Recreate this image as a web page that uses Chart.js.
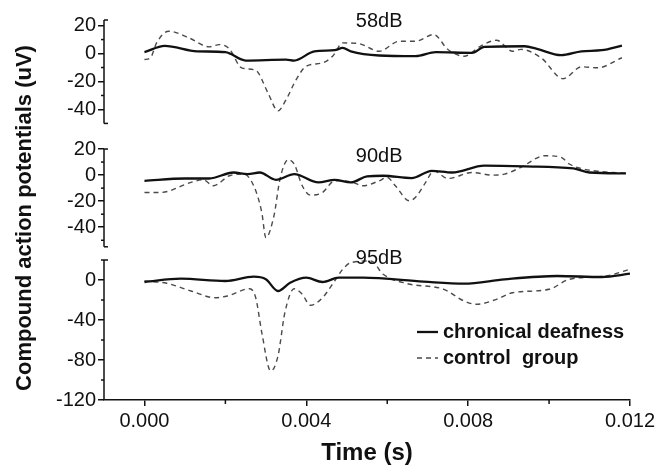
<!DOCTYPE html>
<html>
<head>
<meta charset="utf-8">
<script src="https://cdn.jsdelivr.net/npm/chart.js@4.4.1/dist/chart.umd.min.js"></script>
<style>
  html, body { margin: 0; padding: 0; background: #fff; }
  canvas { display: block; }
</style>
</head>
<body>
<canvas id="cap" width="656" height="468"></canvas>
<script>
// time (s) / amplitude (uV)
const t58Deaf = [0, 0.0005, 0.0013, 0.002, 0.0025, 0.0035, 0.0037, 0.0042, 0.0047, 0.0049, 0.0051, 0.0058, 0.0067, 0.0072, 0.0081, 0.0084, 0.0094, 0.0097, 0.0103, 0.0108, 0.0113, 0.0118];
const v58Deaf = [1, 5.5, 1.6, 1, -5, -4.3, -5, 1.6, 2.4, 4, 1.6, -1.4, -1.9, 1, 0.5, 4.8, 5.2, 3.3, -1.2, 1.6, 2.4, 5.7];
const t58Ctrl = [0, 0.00015, 0.0003, 0.0006, 0.0011, 0.0016, 0.00185, 0.0021, 0.0024, 0.00275, 0.00305, 0.0033, 0.0035, 0.00375, 0.004, 0.0044, 0.00465, 0.0049, 0.0053, 0.0058, 0.0063, 0.0067, 0.00715, 0.0075, 0.0079, 0.0083, 0.0087, 0.0091, 0.0093, 0.0098, 0.01035, 0.0108, 0.0112, 0.0118];
const v58Ctrl = [-4.3, -3, 7.6, 16, 11.2, 4.8, 6.4, 3.3, -10.2, -12, -28, -41, -33, -18.6, -9, -6.7, -1.9, 7.6, 7.1, 1.6, 8.8, 8.8, 13.6, 2.9, -1.9, 5.2, 9.5, 1.6, 3, -3, -18, -9.5, -10.2, -3];

const t90Deaf = [0, 0.001, 0.0016, 0.0022, 0.00255, 0.00285, 0.00325, 0.0037, 0.0043, 0.0047, 0.0051, 0.0055, 0.0059, 0.0066, 0.0071, 0.0076, 0.0084, 0.0094, 0.0106, 0.011, 0.0119];
const v90Deaf = [-4.4, -2.6, -2.6, 2, 0.8, 2, -3.6, 0.8, -5.6, -3.6, -5.6, -1, -0.5, -2.3, 3.3, 2, 7.2, 6.7, 5.1, 2, 1.3];
const t90Ctrl = [0, 0.0004, 0.00115, 0.00145, 0.0017, 0.0021, 0.00245, 0.0027, 0.0029, 0.003, 0.0032, 0.00335, 0.00355, 0.0037, 0.0039, 0.0041, 0.0044, 0.0047, 0.0051, 0.0054, 0.0058, 0.006, 0.0062, 0.00655, 0.0067, 0.00695, 0.00715, 0.0075, 0.0081, 0.0086, 0.0089, 0.0093, 0.0099, 0.0103, 0.0105, 0.0108, 0.0112, 0.0119];
const v90Ctrl = [-13.3, -13.3, -5.6, -3.6, -8.2, -0.5, 0.8, -8.2, -28.7, -48, -31.3, -3, 11.8, 8.5, -8.2, -15.4, -13.3, -4.4, -5.1, -8.2, -4.4, -1.8, -8.2, -19.7, -17, -5.6, 3.3, -2.6, 2, 0, 0.8, 5.9, 14.9, 13.6, 8.5, 5, 3, 1.3];

const t95Deaf = [0, 0.0009, 0.002, 0.0027, 0.003, 0.0033, 0.0036, 0.004, 0.0044, 0.0048, 0.0054, 0.0069, 0.0079, 0.0089, 0.0102, 0.0113, 0.012];
const v95Deaf = [-2, 1.3, -1, 3.3, 0.7, -11, -2.7, 2.3, -2, 2.3, 2.3, -1.7, -3.7, 0.7, 4, 3, 6.3];
const t95Ctrl = [0, 0.00055, 0.00115, 0.00175, 0.00205, 0.0026, 0.00275, 0.0029, 0.00312, 0.0033, 0.00347, 0.0037, 0.0039, 0.0041, 0.0044, 0.0047, 0.0049, 0.0051, 0.0056, 0.0059, 0.0065, 0.0074, 0.0079, 0.0082, 0.0087, 0.0091, 0.01, 0.0105, 0.0114, 0.012];
const v95Ctrl = [-1, -3.3, -11, -17.7, -16, -8.7, -17.7, -52.7, -91, -76, -32.7, -8.7, -14.3, -25.3, -17.7, -1, 10.7, 17.3, 19, 5.7, -3.7, -9.3, -21, -24.3, -19.3, -12.7, -9.3, 0.7, 4, 10.7];

// axes
const xMajor = [0, 0.004, 0.008, 0.012];
const xMinor = [0.002, 0.006, 0.01];
const panelIds = ['yTop', 'yMid', 'yBot'];
const panelLabels = ['58dB', '90dB', '95dB'];
const labelTime = 0.0058;
const labelValues = [23, 14, 22];
const yMajor = [[20, 0, -20, -40], [20, 0, -20, -40], [0, -40, -80, -120]];
const yMinor = [[10, -10, -30], [10, -10, -30, -50], [20, -20, -60, -100]];
const axisSpans = [[-50, 24], [-55, 20], [-120, 20]];
const seriesNames = ['chronical deafness', 'control  group'];

const FONT = 'Arial, "Liberation Sans", sans-serif';
const INK = '#111';

const pts = (ts, vs) => ts.map((t, i) => ({ x: t, y: vs[i] }));
const solid = { borderColor: INK, borderWidth: 2.3, pointRadius: 0, cubicInterpolationMode: 'monotone' };
const dashed = { borderColor: '#4a4a4a', borderWidth: 1.4, borderDash: [5, 4], pointRadius: 0, cubicInterpolationMode: 'monotone' };

function yAxis(idx, min, max, weight) {
  return {
    type: 'linear', position: 'left', stack: 'panels', stackWeight: weight,
    min: min, max: max,
    grid: { display: true, drawOnChartArea: false, drawTicks: true, tickLength: 6, color: INK, lineWidth: 1.5 },
    border: { display: false },
    ticks: { color: INK, font: { family: FONT, size: 20 }, padding: 2, autoSkip: false, callback: v => String(v) },
    afterBuildTicks: s => { s.ticks = yMajor[idx].map(v => ({ value: v })); },
    afterFit: s => { s.width = 104; s.paddingTop = 0; s.paddingBottom = 0; }
  };
}

const panelDecor = {
  id: 'panelDecor',
  afterDraw(chart) {
    const ctx = chart.ctx;
    const xs = chart.scales.x;
    const left = chart.chartArea.left;
    const bottom = chart.chartArea.bottom;
    const seg = (x1, y1, x2, y2) => { ctx.beginPath(); ctx.moveTo(x1, y1); ctx.lineTo(x2, y2); ctx.stroke(); };
    ctx.save();
    ctx.strokeStyle = INK;
    ctx.fillStyle = INK;
    ctx.lineWidth = 1.5;
    panelIds.forEach((id, i) => {
      const s = chart.scales[id];
      const top = s.getPixelForValue(axisSpans[i][1]);
      const bot = s.getPixelForValue(axisSpans[i][0]);
      seg(left, top, left, bot);
      seg(left, top, left + 4, top);
      if (i < 2) seg(left, bot, left + 4, bot);
      yMinor[i].forEach(v => { const py = s.getPixelForValue(v); seg(left - 3, py, left, py); });
      ctx.font = '20px ' + FONT;
      ctx.textAlign = 'center';
      ctx.textBaseline = 'middle';
      ctx.fillText(panelLabels[i], xs.getPixelForValue(labelTime), s.getPixelForValue(labelValues[i]));
    });
    xMinor.forEach(v => { const px = xs.getPixelForValue(v); seg(px, bottom, px, bottom + 4); });

    // legend
    ctx.font = 'bold 20px ' + FONT;
    ctx.textAlign = 'left';
    ctx.textBaseline = 'middle';
    ctx.lineWidth = 2.3;
    seg(417, 332, 438, 332);
    ctx.fillText(seriesNames[0], 443, 332);
    ctx.strokeStyle = '#4a4a4a';
    ctx.lineWidth = 1.4;
    ctx.setLineDash([5, 4]);
    seg(417, 358, 438, 358);
    ctx.setLineDash([]);
    ctx.fillText(seriesNames[1], 443, 358);

    // y title
    ctx.translate(25, 218);
    ctx.rotate(-Math.PI / 2);
    ctx.font = 'bold 22px ' + FONT;
    ctx.textAlign = 'center';
    ctx.fillText('Compound action potentials (uV)', 0, 0);
    ctx.restore();
  }
};

new Chart(document.getElementById('cap'), {
  type: 'line',
  data: {
    datasets: [
      { label: seriesNames[0], data: pts(t58Deaf, v58Deaf), yAxisID: 'yTop', ...solid },
      { label: seriesNames[1], data: pts(t58Ctrl, v58Ctrl), yAxisID: 'yTop', ...dashed },
      { label: seriesNames[0], data: pts(t90Deaf, v90Deaf), yAxisID: 'yMid', ...solid },
      { label: seriesNames[1], data: pts(t90Ctrl, v90Ctrl), yAxisID: 'yMid', ...dashed },
      { label: seriesNames[0], data: pts(t95Deaf, v95Deaf), yAxisID: 'yBot', ...solid },
      { label: seriesNames[1], data: pts(t95Ctrl, v95Ctrl), yAxisID: 'yBot', ...dashed }
    ]
  },
  options: {
    responsive: false,
    animation: false,
    layout: { padding: { top: 20, right: 26, left: 0, bottom: 0 } },
    plugins: { legend: { display: false }, tooltip: { enabled: false } },
    scales: {
      x: {
        type: 'linear', position: 'bottom', min: -0.001, max: 0.012,
        grid: { display: true, drawOnChartArea: false, tickLength: 6, color: INK, lineWidth: 1.5 },
        border: { display: true, color: INK, width: 1.5 },
        ticks: { color: INK, font: { family: FONT, size: 20 }, padding: 3, maxRotation: 0, autoSkip: false, callback: v => v.toFixed(3) },
        title: { display: true, text: 'Time (s)', color: INK, font: { family: FONT, size: 24, weight: 'bold' }, padding: { top: 0, bottom: 0 } },
        afterBuildTicks: s => { s.ticks = xMajor.map(v => ({ value: v })); },
        afterFit: s => { s.height = 68; s.paddingLeft = 0; s.paddingRight = 0; }
      },
      yBot: yAxis(2, -120, 28, 148),
      yMid: yAxis(1, -59, 30, 116),
      yTop: yAxis(0, -59, 24, 116)
    }
  },
  plugins: [panelDecor]
});
</script>
</body>
</html>
